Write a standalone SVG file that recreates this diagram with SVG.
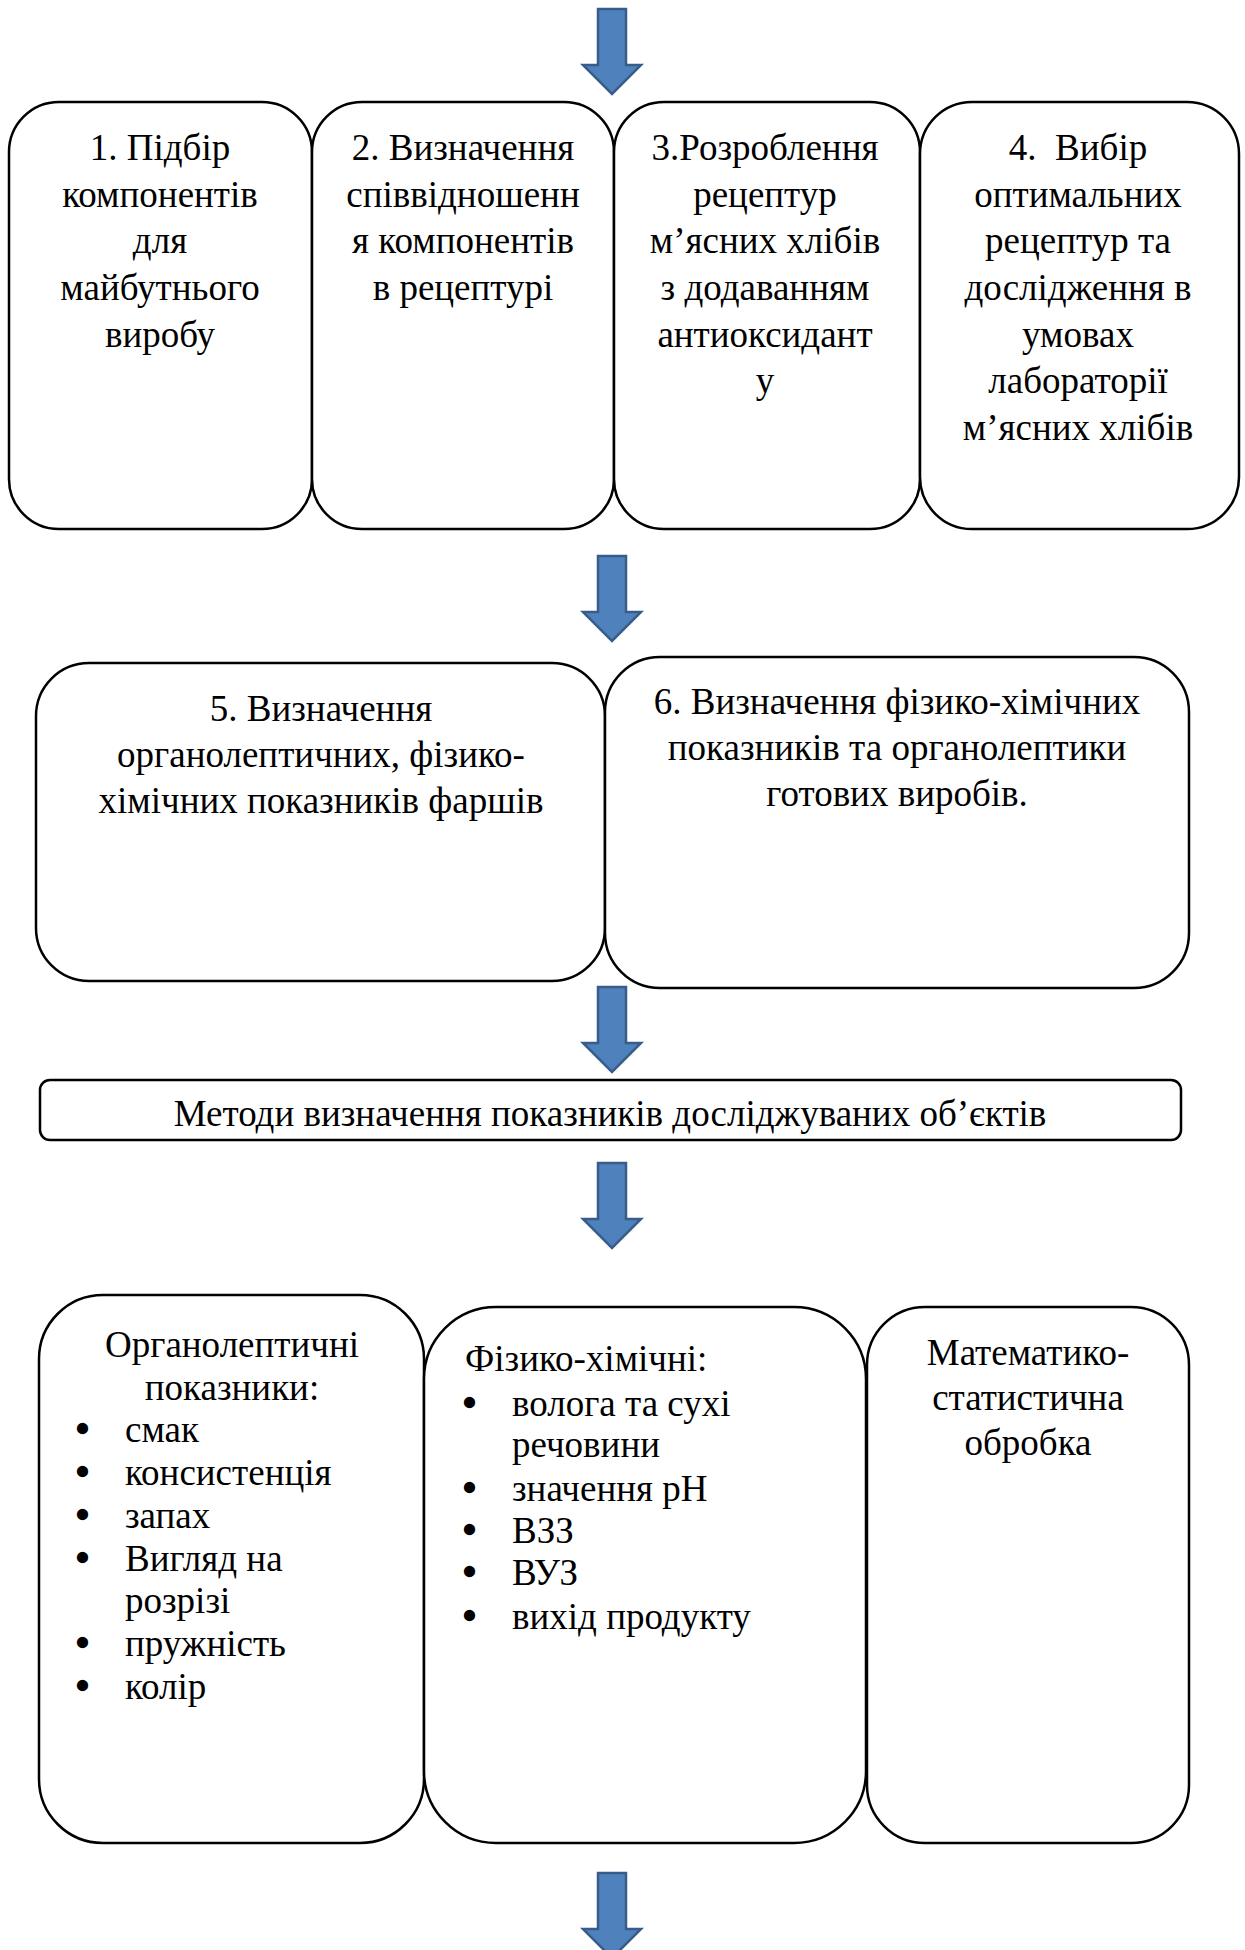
<svg xmlns="http://www.w3.org/2000/svg" width="1245" height="1950" viewBox="0 0 1245 1950">
<style>
.box{fill:#ffffff;stroke:#000000;stroke-width:2.5}
.arr{fill:#4F81BD;stroke:#385D8A;stroke-width:2.5;stroke-linejoin:miter}
text{font-family:"Liberation Serif","Times New Roman",serif;font-size:37px;fill:#000000}
.c{text-anchor:middle}
.b{stroke:#000000;stroke-width:2.4}
</style>
<defs>
<path id="arrow" class="arr" d="M598,0 H626 V56 H641 L612,85 L583,56 H598 Z"/>
</defs>
<g id="connectors">
<use href="#arrow" transform="translate(0,9)"/>
<use href="#arrow" transform="translate(0,556)"/>
<use href="#arrow" transform="translate(0,987)"/>
<use href="#arrow" transform="translate(0,1163)"/>
<use href="#arrow" transform="translate(0,1873)"/>
</g>
<g id="n1">
<rect class="box" x="9" y="102" width="303" height="427" rx="50" ry="50"/>
<text class="c"><tspan x="160" y="160">1. Підбір</tspan><tspan x="160" y="207">компонентів</tspan><tspan x="160" y="253">для</tspan><tspan x="160" y="300">майбутнього</tspan><tspan x="160" y="347">виробу</tspan></text>
</g>
<g id="n2">
<rect class="box" x="312" y="102" width="302" height="427" rx="50" ry="50"/>
<text class="c"><tspan x="463" y="160">2. Визначення</tspan><tspan x="463" y="207">співвідношенн</tspan><tspan x="463" y="253">я компонентів</tspan><tspan x="463" y="300">в рецептурі</tspan></text>
</g>
<g id="n3">
<rect class="box" x="614" y="102" width="306" height="427" rx="50" ry="50"/>
<text class="c"><tspan x="765" y="160">3.Розроблення</tspan><tspan x="765" y="207">рецептур</tspan><tspan x="765" y="253">м’ясних хлібів</tspan><tspan x="765" y="300">з додаванням</tspan><tspan x="765" y="347">антиоксидант</tspan><tspan x="765" y="393">у</tspan></text>
</g>
<g id="n4">
<rect class="box" x="920" y="102" width="319" height="427" rx="52" ry="52"/>
<text class="c" xml:space="preserve"><tspan x="1078" y="160">4.  Вибір</tspan><tspan x="1078" y="207">оптимальних</tspan><tspan x="1078" y="253">рецептур та</tspan><tspan x="1078" y="300">дослідження в</tspan><tspan x="1078" y="347">умовах</tspan><tspan x="1078" y="393">лабораторії</tspan><tspan x="1078" y="440">м’ясних хлібів</tspan></text>
</g>
<g id="n5">
<rect class="box" x="36" y="663" width="569" height="318" rx="53" ry="53"/>
<text class="c"><tspan x="321" y="721">5. Визначення</tspan><tspan x="321" y="767">органолептичних, фізико-</tspan><tspan x="321" y="813">хімічних показників фаршів</tspan></text>
</g>
<g id="n6">
<rect class="box" x="605" y="657" width="584" height="331" rx="55" ry="55"/>
<text class="c"><tspan x="897" y="714">6. Визначення фізико-хімічних</tspan><tspan x="897" y="760">показників та органолептики</tspan><tspan x="897" y="806">готових виробів.</tspan></text>
</g>
<g id="n7">
<rect class="box" x="40" y="1080" width="1141" height="60" rx="10" ry="10"/>
<text class="c" x="610" y="1126">Методи визначення показників досліджуваних об’єктів</text>
</g>
<g id="n8">
<rect class="box" x="39" y="1295" width="385" height="548" rx="64" ry="64"/>
<text class="c"><tspan x="232" y="1357">Органолептичні</tspan><tspan x="232" y="1400">показники:</tspan></text>
<text><tspan class="b" x="76" y="1442">•</tspan><tspan x="125" y="1442">смак</tspan></text>
<text><tspan class="b" x="76" y="1485">•</tspan><tspan x="125" y="1485">консистенція</tspan></text>
<text><tspan class="b" x="76" y="1528">•</tspan><tspan x="125" y="1528">запах</tspan></text>
<text><tspan class="b" x="76" y="1571">•</tspan><tspan x="125" y="1571">Вигляд на</tspan><tspan x="125" y="1613">розрізі</tspan></text>
<text><tspan class="b" x="76" y="1656">•</tspan><tspan x="125" y="1656">пружність</tspan></text>
<text><tspan class="b" x="76" y="1699">•</tspan><tspan x="125" y="1699">колір</tspan></text>
</g>
<g id="n9">
<rect class="box" x="424" y="1307" width="442" height="536" rx="72" ry="72"/>
<text x="465" y="1371">Фізико-хімічні:</text>
<text><tspan class="b" x="463" y="1416">•</tspan><tspan x="512" y="1416">волога та сухі</tspan><tspan x="512" y="1457">речовини</tspan></text>
<text><tspan class="b" x="463" y="1501">•</tspan><tspan x="512" y="1501">значення рН</tspan></text>
<text><tspan class="b" x="463" y="1543">•</tspan><tspan x="512" y="1543">ВЗЗ</tspan></text>
<text><tspan class="b" x="463" y="1585">•</tspan><tspan x="512" y="1585">ВУЗ</tspan></text>
<text><tspan class="b" x="463" y="1629">•</tspan><tspan x="512" y="1629">вихід продукту</tspan></text>
</g>
<g id="n10">
<rect class="box" x="867" y="1307" width="322" height="536" rx="58" ry="58"/>
<text class="c"><tspan x="1028" y="1365">Математико-</tspan><tspan x="1028" y="1410">статистична</tspan><tspan x="1028" y="1455">обробка</tspan></text>
</g>
</svg>
